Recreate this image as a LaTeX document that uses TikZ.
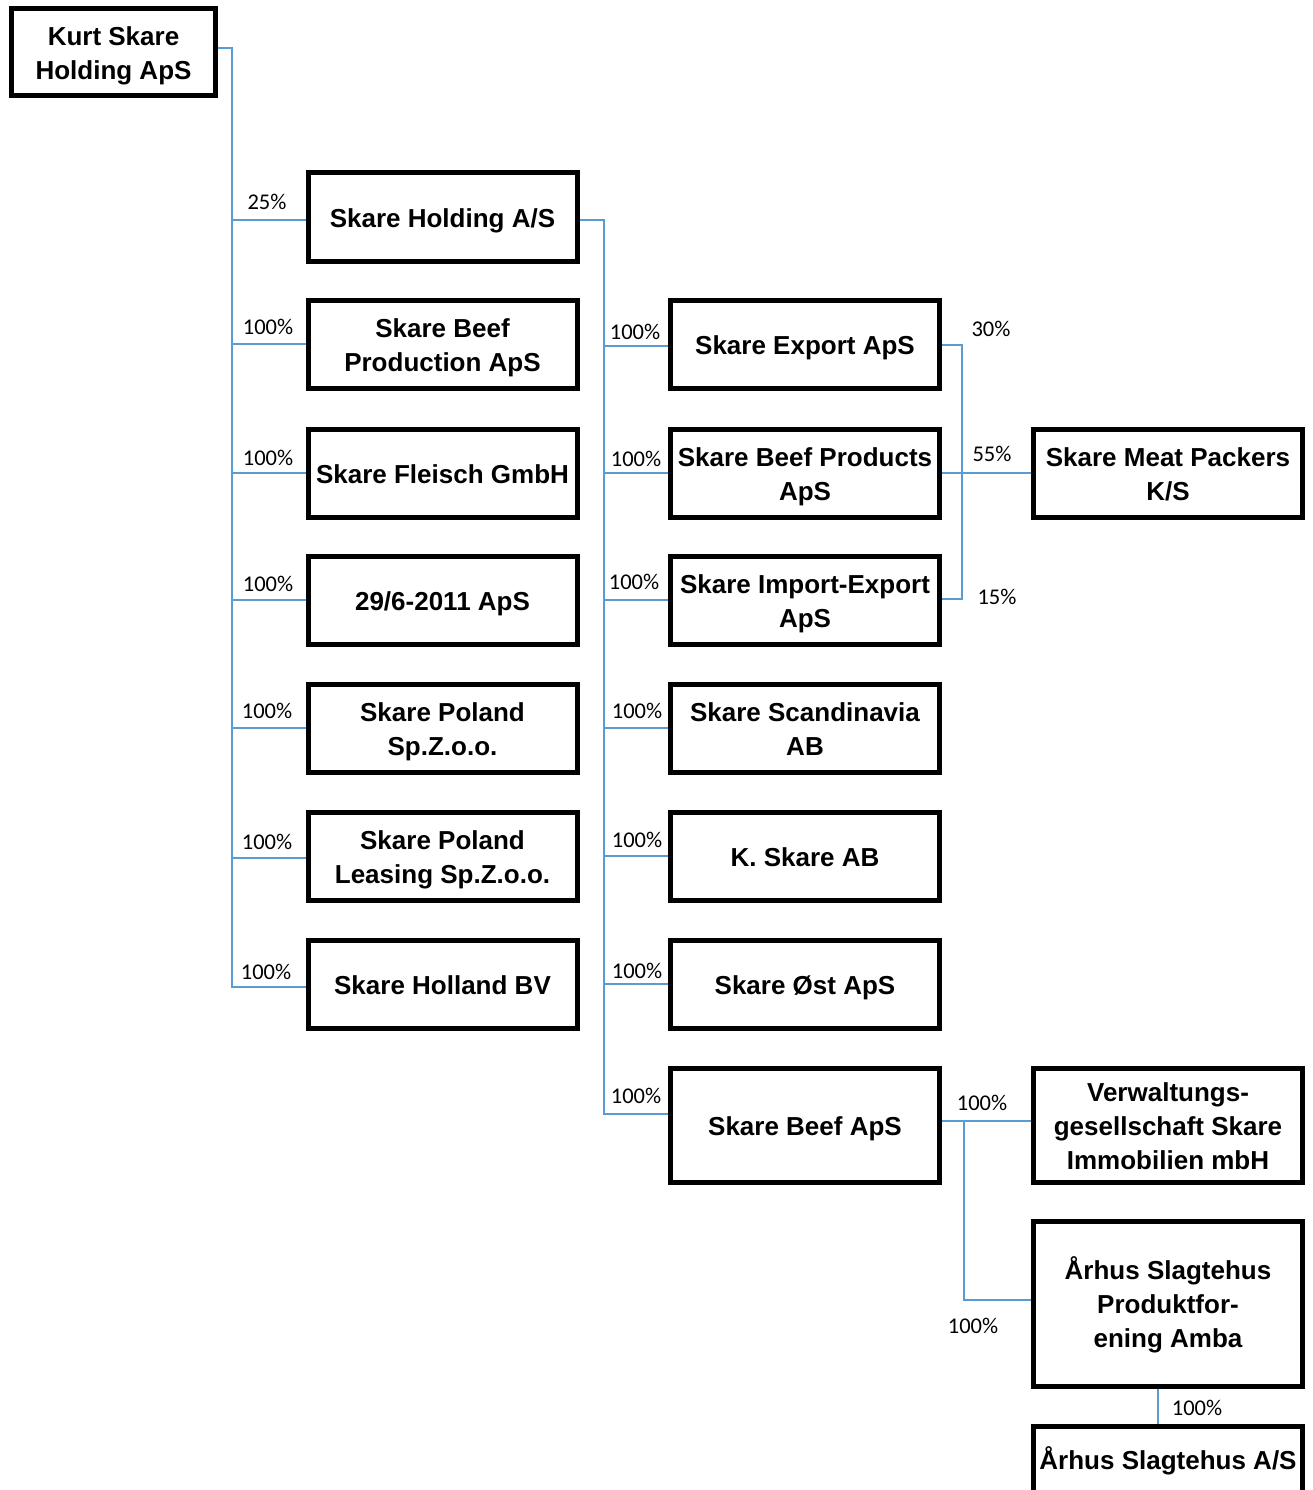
\documentclass[tikz,border=0pt]{standalone}
\usepackage{fontspec}
\newfontfamily\arialf{Liberation Sans Bold}
\newfontfamily\calibf{Carlito}
\usetikzlibrary{backgrounds}
\definecolor{connblue}{RGB}{91,155,213}
\newcommand\bt{\rule{0pt}{26pt}}
\newcommand\bb{\rule[-5pt]{0pt}{5pt}}
\begin{document}
\begin{tikzpicture}[x=1pt,y=-1pt,
  box/.style={draw=black, line width=5pt, fill=white, align=center, inner sep=0pt,
    minimum width=269pt, minimum height=88pt,
    font=\arialf\fontsize{26}{34}\selectfont},
  tallbox/.style={box, minimum height=114pt},
  conn/.style={draw=connblue, line width=1.4pt},
  pct/.style={inner sep=0pt, font=\calibf\fontsize{22.5}{26}\selectfont}]
\useasboundingbox (0,0) rectangle (1313,1490);
\clip (0,0) rectangle (1313,1490);

% column 1
\node[box, minimum width=204pt, minimum height=87pt] (kurt) at (113.5,52) {\bt Kurt Skare\\Holding ApS\bb};
% column 2
\node[box] (hold) at (442.5,217) {\bt Skare Holding A/S\bb};
\node[box] (beefprod) at (442.5,344) {\bt Skare Beef\\Production ApS\bb};
\node[box] (fleisch) at (442.5,473) {\bt Skare Fleisch GmbH\bb};
\node[box] (aps) at (442.5,600) {\bt 29/6-2011 ApS\bb};
\node[box] (poland) at (442.5,728) {\bt Skare Poland\\Sp.Z.o.o.\bb};
\node[box] (leasing) at (442.5,856) {\bt Skare Poland\\Leasing Sp.Z.o.o.\bb};
\node[box] (holland) at (442.5,984) {\bt Skare Holland BV\bb};
% column 3
\node[box] (export) at (805,344) {\bt Skare Export ApS\bb};
\node[box] (beefproducts) at (805,473) {\bt Skare Beef Products\\ApS\bb};
\node[box] (impexp) at (805,600) {\bt Skare Import-Export\\ApS\bb};
\node[box] (scand) at (805,728) {\bt Skare Scandinavia\\AB\bb};
\node[box] (kskare) at (805,856) {\bt K. Skare AB\bb};
\node[box] (ost) at (805,984) {\bt Skare Øst ApS\bb};
\node[tallbox] (beefaps) at (805,1125) {\bt Skare Beef ApS\bb};
% column 4
\node[box] (meat) at (1168,473) {\bt Skare Meat Packers\\K/S\bb};
\node[tallbox] (verw) at (1168,1125) {\bt Verwaltungs-\\gesellschaft Skare\\Immobilien mbH\bb};
\node[box, minimum height=165pt] (arhusprod) at (1168,1303.5) {\bt Århus Slagtehus\\Produktfor-\\ening Amba\bb};
\node[box, anchor=base, text height=43pt, text depth=62pt] (arhus) at (1168,1469) {Århus Slagtehus A/S};

% bus coordinates
\coordinate (busA) at (232,0);
\coordinate (busB) at (604,0);
\coordinate (busC) at (962,0);
\coordinate (busD) at (964,0);

\begin{scope}[on background layer]
  \fill[white] (0,0) rectangle (1313,1490);
  % from Kurt Skare Holding
  \draw[conn] ([yshift=4pt]kurt.east) -| ([yshift=-3pt]busA |- holland.west) -- ([yshift=-3pt]holland.west);
  \draw[conn] ([yshift=-3pt]busA |- hold.west) -- ([yshift=-3pt]hold.west);
  \foreach \n in {beefprod,fleisch,aps,poland}
    \draw[conn] (busA |- \n.west) -- (\n.west);
  \draw[conn] ([yshift=-2pt]busA |- leasing.west) -- ([yshift=-2pt]leasing.west);
  % from Skare Holding A/S
  \draw[conn] ([yshift=-3pt]hold.east) -| ([yshift=11pt]busB |- beefaps.west) -- ([yshift=11pt]beefaps.west);
  \draw[conn] ([yshift=-2pt]busB |- export.west) -- ([yshift=-2pt]export.west);
  \foreach \n in {beefproducts,impexp,scand,kskare,ost}
    \draw[conn] (busB |- \n.west) -- (\n.west);
  % Export / Import-Export to Meat Packers
  \draw[conn] ([yshift=-1pt]export.east) -| ([yshift=1pt]busC |- impexp.east) -- ([yshift=1pt]impexp.east);
  \draw[conn] (beefproducts.east) -- (meat.west);
  % Skare Beef ApS
  \draw[conn] ([yshift=4pt]beefaps.east) -- ([yshift=4pt]verw.west);
  \draw[conn] ([yshift=4pt]busD |- beefaps.east) -- ([yshift=3.5pt]busD |- arhusprod.west) -- ([yshift=3.5pt]arhusprod.west);
  % Århus
  \draw[conn] ([xshift=-10pt]arhusprod.south) -- ([xshift=-10pt]arhus.north);
\end{scope}

% percentage labels
\node[pct] (l1) at (267,202) {25\%};
\node[pct] (l2) at (268,327) {100\%};
\node[pct] (l3) at (268,458) {100\%};
\node[pct] (l4) at (268,584) {100\%};
\node[pct] (l5) at (267,711) {100\%};
\node[pct] (l6) at (267,842) {100\%};
\node[pct] (l7) at (266,972) {100\%};
\node[pct] (m1) at (635,332) {100\%};
\node[pct] (m2) at (636,459) {100\%};
\node[pct] (m3) at (634,582) {100\%};
\node[pct] (m4) at (637,711) {100\%};
\node[pct] (m5) at (637,840) {100\%};
\node[pct] (m6) at (637,971) {100\%};
\node[pct] (m7) at (636,1096) {100\%};
\node[pct] (r1) at (991,329) {30\%};
\node[pct] (r2) at (992,454) {55\%};
\node[pct] (r3) at (997,597) {15\%};
\node[pct] (r4) at (982,1103) {100\%};
\node[pct] (r5) at (973,1326) {100\%};
\node[pct] (r6) at (1197,1408) {100\%};
\end{tikzpicture}
\end{document}
